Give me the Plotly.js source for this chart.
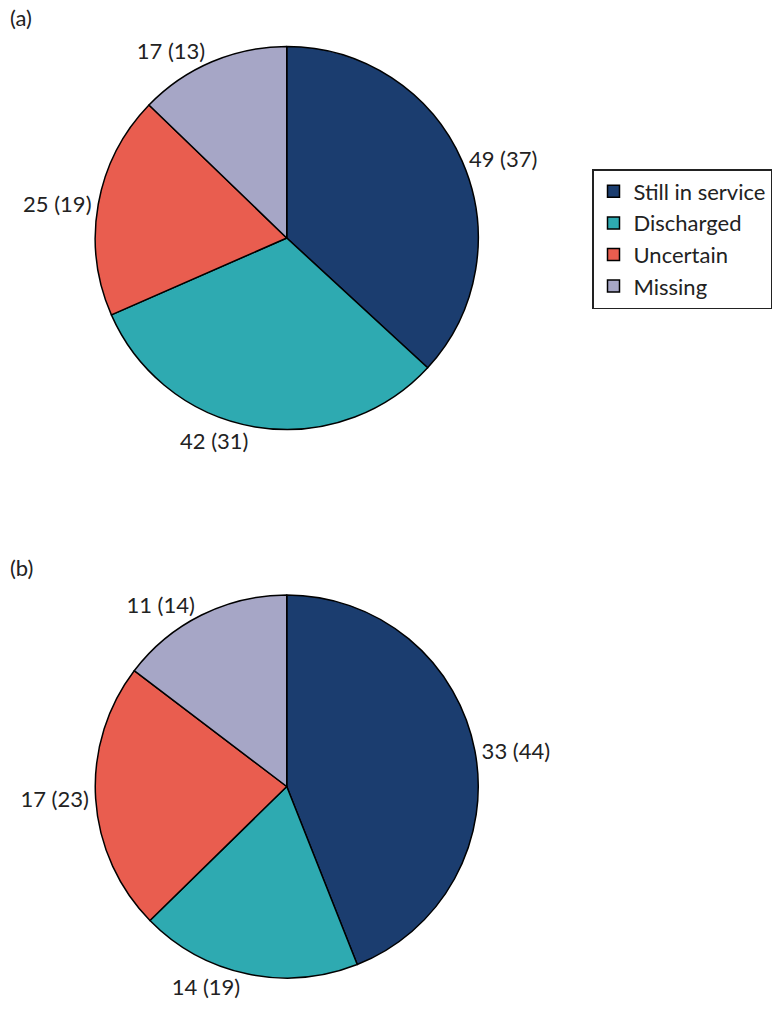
<!DOCTYPE html>
<html>
<head>
<meta charset="utf-8">
<script src="https://cdn.plot.ly/plotly-3.0.1.min.js"></script>
<style>html,body{margin:0;padding:0;background:#fff;}#chart{width:772px;height:1015px;}</style>
</head>
<body>
<div id="chart"></div>
<script>
const categories = ["Still in service", "Discharged", "Uncertain", "Missing"];
const countsA = [49, 42, 25, 17];
const percentA = [37, 31, 19, 13];
const countsB = [33, 14, 17, 11];
const percentB = [44, 19, 23, 14];
const colors = ["#1b3d6f", "#2eaab1", "#e95d4f", "#a6a6c6"];

function labels(c, p) { return c.map((v, i) => v + " (" + p[i] + ")"); }

const font = "Lato, 'Open Sans', sans-serif";

const traceA = {
  type: "pie", values: countsA, labels: categories, text: labels(countsA, percentA),
  textinfo: "text", textposition: "outside", sort: false, direction: "clockwise", rotation: 0,
  marker: {colors: colors, line: {color: "#000", width: 1.5}},
  outsidetextfont: {color: "#222", size: 22, family: font},
  domain: {x: [96/772, 482/772], y: [1 - 431/1015, 1 - 45/1015]},
  legend: "legend", hoverinfo: "none"
};
const traceB = {
  type: "pie", values: countsB, labels: categories, text: labels(countsB, percentB),
  textinfo: "text", textposition: "outside", sort: false, direction: "clockwise", rotation: 0,
  marker: {colors: colors, line: {color: "#000", width: 1.5}},
  outsidetextfont: {color: "#222", size: 22, family: font},
  domain: {x: [96/772, 482/772], y: [1 - 979/1015, 1 - 594/1015]},
  legend: "legend2", hoverinfo: "none"
};

const legendStyle = (ytop) => ({
  x: 597/772, xanchor: "left", y: 1 - ytop/1015, yanchor: "top",
  bordercolor: "#222", borderwidth: 1.5, bgcolor: "#fff",
  font: {family: font, size: 22, color: "#222"}, traceorder: "normal"
});

const layout = {
  width: 772, height: 1015, margin: {l: 0, r: 0, t: 0, b: 0},
  paper_bgcolor: "#fff", font: {family: font},
  showlegend: true,
  legend: legendStyle(169),
  legend2: legendStyle(716),
  annotations: [
    {text: "(a)", x: 8/772, y: 1 - 18/1015, xref: "paper", yref: "paper", xanchor: "left", yanchor: "middle", showarrow: false, font: {family: font, size: 22, color: "#222"}},
    {text: "(b)", x: 8/772, y: 1 - 567/1015, xref: "paper", yref: "paper", xanchor: "left", yanchor: "middle", showarrow: false, font: {family: font, size: 22, color: "#222"}}
  ]
};

Plotly.newPlot("chart", [traceA, traceB], layout, {displayModeBar: false, staticPlot: true});
</script>
</body>
</html>
